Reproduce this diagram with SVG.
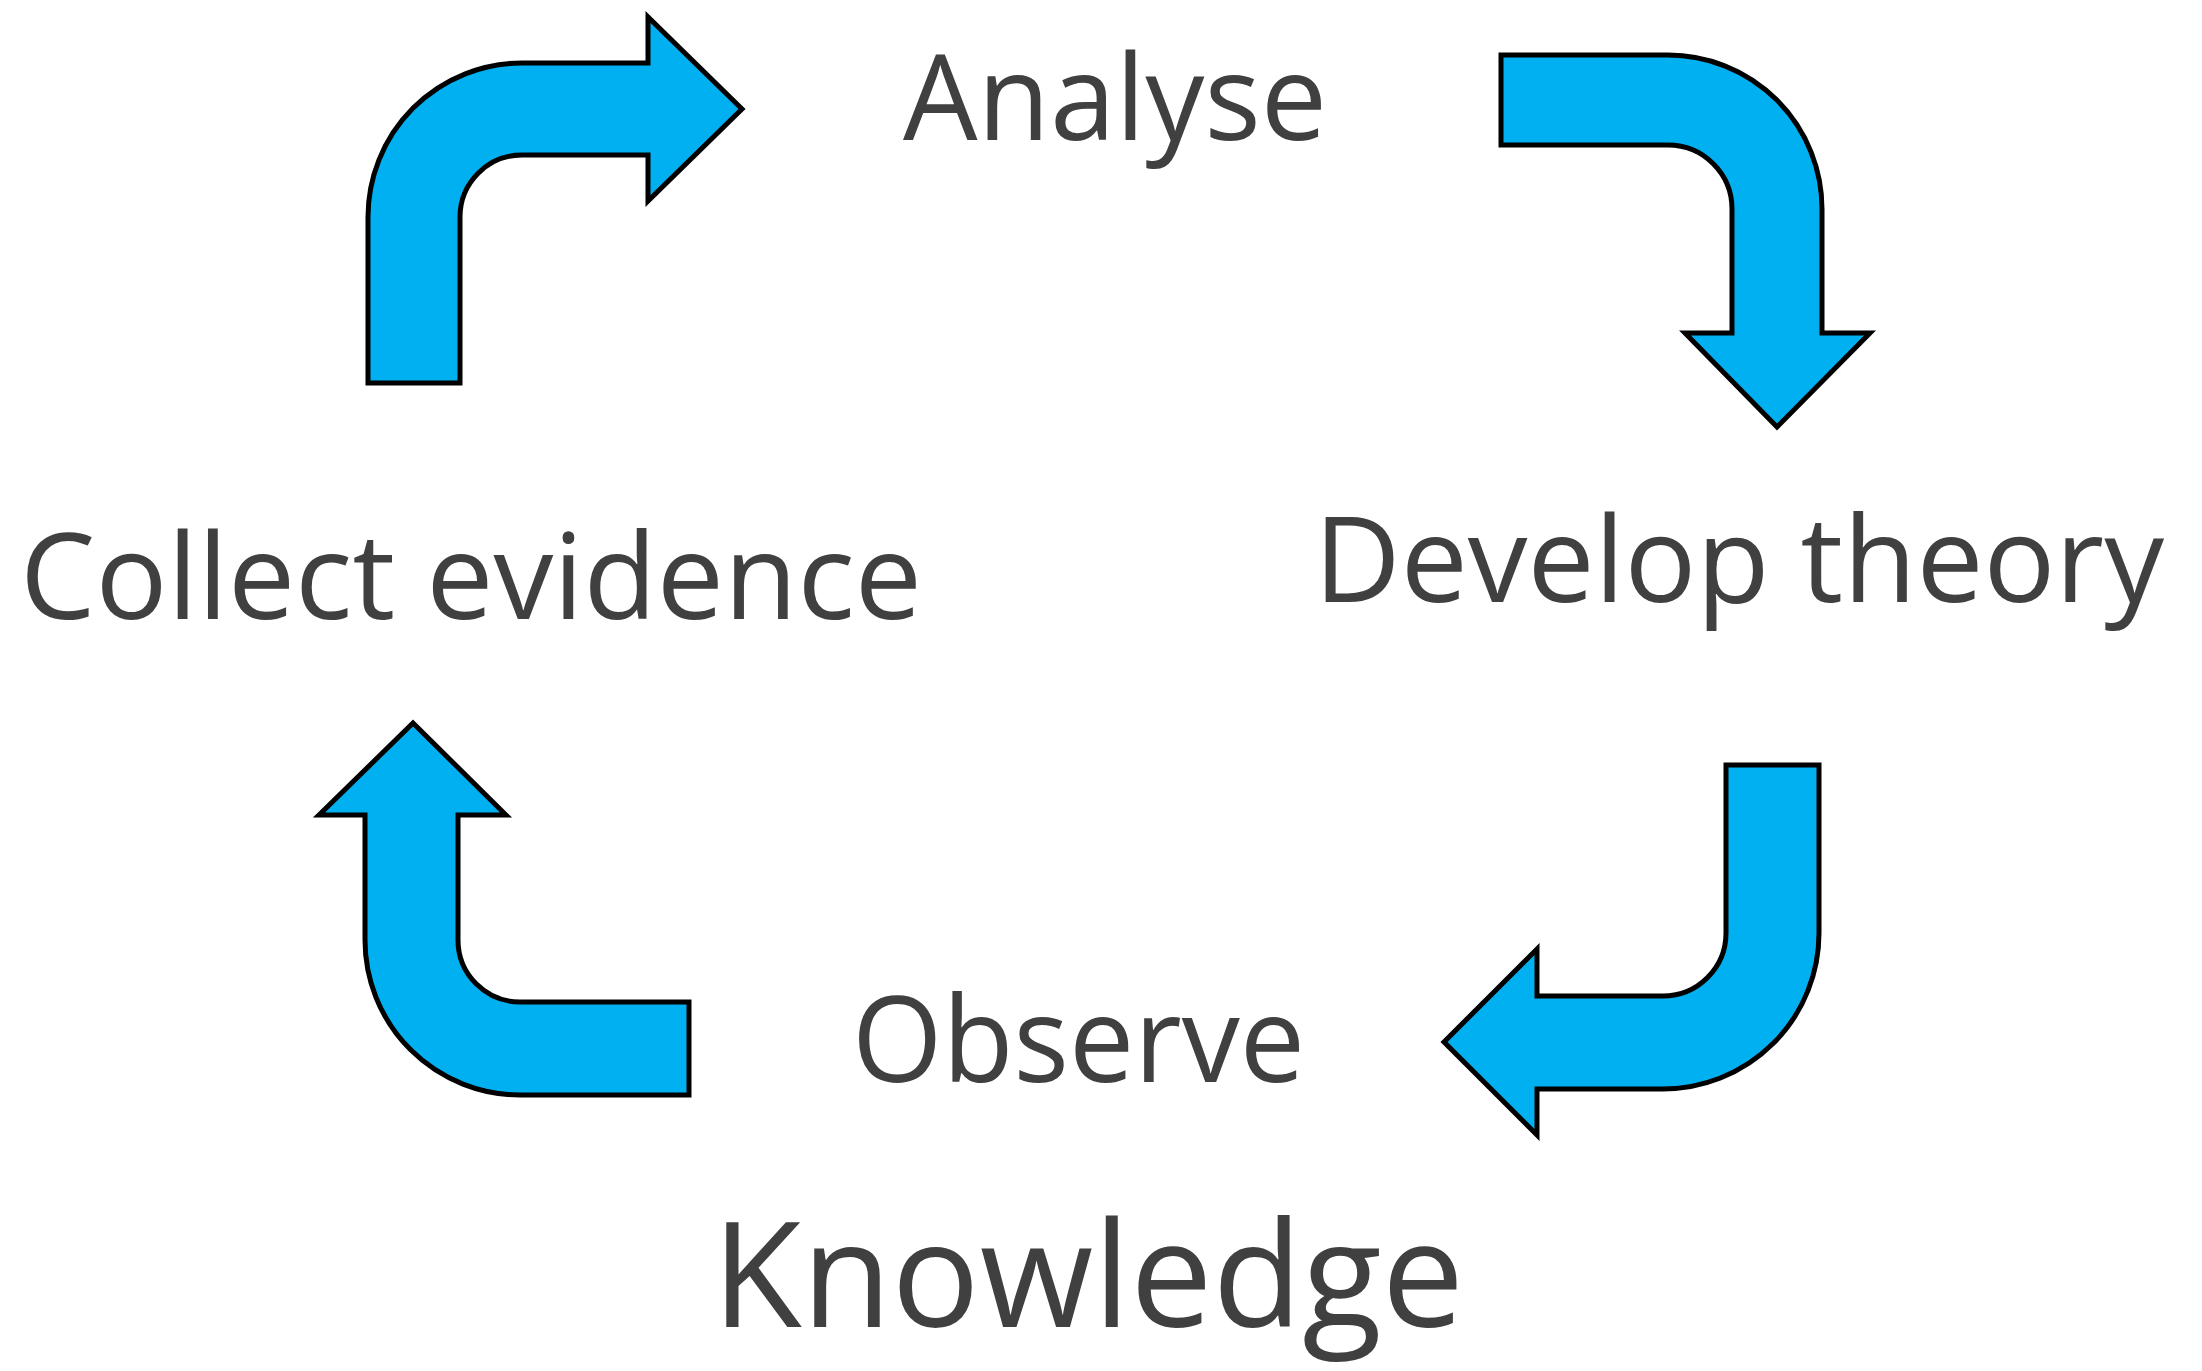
<svg xmlns="http://www.w3.org/2000/svg" width="2202" height="1371" viewBox="0 0 2202 1371">
  <style>
    .lbl { font-family: "Open Sans", "Liberation Sans", Arial, sans-serif; font-size: 119px; fill: #404040; }
    .big { font-size: 147px; }
    .arrow { fill: #00B0F0; stroke: #000000; stroke-width: 5; stroke-linejoin: miter; }
  </style>
  <rect width="2202" height="1371" fill="#ffffff"/>
  <g id="connectors">
    <path class="arrow" d="M368,383 V217 A154,154 0 0 1 522,63 H648 V17 L742,109 L648,201 V155 H522 A62,62 0 0 0 460,217 V383 Z"/>
    <path class="arrow" d="M1501,55 H1668 A154,154 0 0 1 1822,209 V333 H1870 L1777,427 L1685,333 H1732 V209 A64,64 0 0 0 1668,145 H1501 Z"/>
    <path class="arrow" d="M1726,765 H1819 V933 A156,156 0 0 1 1663,1089 H1537 V1135 L1444,1042 L1537,949 V996 H1663 A63,63 0 0 0 1726,933 Z"/>
    <path class="arrow" d="M689,1002 H520 A62,62 0 0 1 458,940 V815 H506 L413,723 L319,815 H365 V940 A155,155 0 0 0 520,1095 H689 Z"/>
  </g>
  <g id="node-analyse"><text class="lbl" x="903" y="140" textLength="424" lengthAdjust="spacingAndGlyphs">Analyse</text></g>
  <g id="node-develop-theory"><text class="lbl" x="1314" y="602" textLength="850" lengthAdjust="spacingAndGlyphs">Develop theory</text></g>
  <g id="node-observe"><text class="lbl" x="852" y="1082" textLength="453" lengthAdjust="spacingAndGlyphs">Observe</text></g>
  <g id="node-collect-evidence"><text class="lbl" x="20" y="619" textLength="902" lengthAdjust="spacingAndGlyphs">Collect evidence</text></g>
  <g id="node-knowledge"><text class="lbl big" x="712" y="1327" textLength="752" lengthAdjust="spacingAndGlyphs">Knowledge</text></g>
</svg>
